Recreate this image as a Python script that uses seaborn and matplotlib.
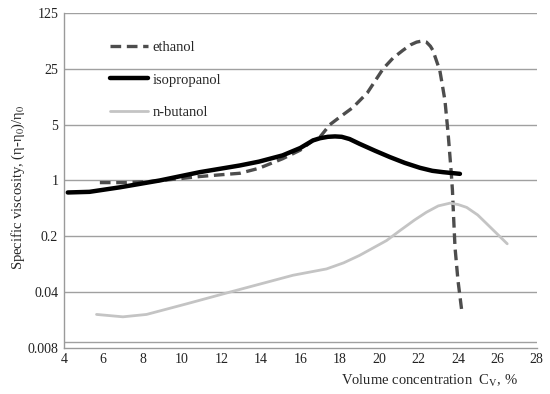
import pandas as pd
import matplotlib
matplotlib.use("Agg")
import matplotlib.pyplot as plt
import seaborn as sns

# ethanol (dashed)
eth_x = [5.83, 7.1, 8.4, 9.5, 10.9, 12.0, 12.93, 13.9, 15.1, 16.0, 16.64, 17.0, 17.5,
         18.0, 18.67, 19.4, 20.2, 20.7, 21.2, 21.6, 21.9, 22.17, 22.4, 22.6, 22.73,
         22.9, 23.08, 23.22, 23.34, 23.5, 23.65, 23.72, 23.77, 23.85, 24.0, 24.2]
eth_y = [0.94, 0.94, 0.97, 1.03, 1.12, 1.18, 1.23, 1.42, 1.87, 2.4, 3.17, 3.5, 5.0,
         6.2, 8.2, 12.5, 25, 34, 42.5, 50, 54, 55.7, 54, 48, 42.5,
         32, 23.8, 15, 10, 3.87, 1.34, 0.75, 0.387, 0.145, 0.056, 0.0225]

# isopropanol (solid black)
iso_x = [4.2, 5.3, 6.84, 8.87, 10.9, 12.93, 13.9, 15.1, 16.0, 16.64, 17.0, 17.4, 17.76,
         18.1, 18.5, 19.0, 19.8, 20.55, 21.3, 22.07, 22.7, 23.24, 24.1]
iso_y = [0.707, 0.72, 0.82, 1.0, 1.27, 1.54, 1.72, 2.06, 2.55, 3.17, 3.38, 3.52, 3.56,
         3.52, 3.3, 2.88, 2.35, 1.96, 1.66, 1.44, 1.32, 1.27, 1.21]

# n-butanol (light grey)
but_x = [5.66, 7.0, 8.2, 10.23, 12.43, 15.63, 17.33, 18.2, 19.0, 20.38, 21.06, 21.8,
         22.4, 23.0, 23.6, 24.0, 24.44, 25.0, 25.46, 26.5]
but_y = [0.021, 0.0196, 0.021, 0.0285, 0.040, 0.065, 0.078, 0.093, 0.115, 0.177, 0.236,
         0.32, 0.40, 0.48, 0.52, 0.50, 0.46, 0.37, 0.287, 0.161]

y_ticks = [0.008, 0.04, 0.2, 1, 5, 25, 125]
y_labels = ["0.008", "0.04", "0.2", "1", "5", "25", "125"]
x_ticks = list(range(4, 29, 2))

sns.set_style("white")
plt.rcParams["font.family"] = ["Liberation Serif", "DejaVu Serif"]
plt.rcParams["mathtext.fontset"] = "stix"
plt.rcParams["lines.solid_joinstyle"] = "round"
plt.rcParams["lines.dash_joinstyle"] = "round"

fig, ax = plt.subplots(figsize=(5.5, 3.94), dpi=100)
fig.subplots_adjust(left=0.116, right=0.976, top=0.967, bottom=0.117)

for yv in y_ticks[1:]:
    ax.axhline(yv, color="#a0a0a0", lw=1.0, zorder=0)
ax.axhline(0.0095, color="#a0a0a0", lw=1.0, zorder=0)

sns.lineplot(x=eth_x, y=eth_y, ax=ax, color="#4d4d4d", lw=2.4, sort=False,
             estimator=None, label="ethanol")
ax.lines[-1].set_dashes((3.2, 1.7))
sns.lineplot(x=iso_x, y=iso_y, ax=ax, color="black", lw=3.2, sort=False,
             estimator=None, label="isopropanol")
sns.lineplot(x=but_x, y=but_y, ax=ax, color="#c4c4c4", lw=2.0, sort=False,
             estimator=None, label="n-butanol")

ax.set_yscale("log", base=5)
ax.set_ylim(0.008, 125)
ax.set_xlim(4, 28)
ax.set_yticks(y_ticks)
ax.set_yticklabels(y_labels)
ax.minorticks_off()
ax.set_xticks(x_ticks)
ax.set_xticklabels([str(t) for t in x_ticks])
ax.tick_params(length=0, labelsize=10, colors="#222222", pad=4)

for side in ["top", "right"]:
    ax.spines[side].set_visible(False)
for side in ["left", "bottom"]:
    ax.spines[side].set_color("#9a9a9a")
    ax.spines[side].set_linewidth(1.0)

ax.set_xlabel(r"Volume concentration  C$_\mathrm{V}$, %", fontsize=10.5)
ax.xaxis.set_label_coords(0.774, -0.075)
ax.set_ylabel(r"Specific viscosity, (η-η$_0$)/η$_0$", fontsize=10.5)
ax.yaxis.set_label_coords(-0.078, 0.48)

ax.legend(loc="upper left", bbox_to_anchor=(0.07, 0.955), frameon=False,
          fontsize=10.5, handlelength=2.6, handletextpad=0.3, labelspacing=1.3)

fig.savefig("out.png", dpi=100)
